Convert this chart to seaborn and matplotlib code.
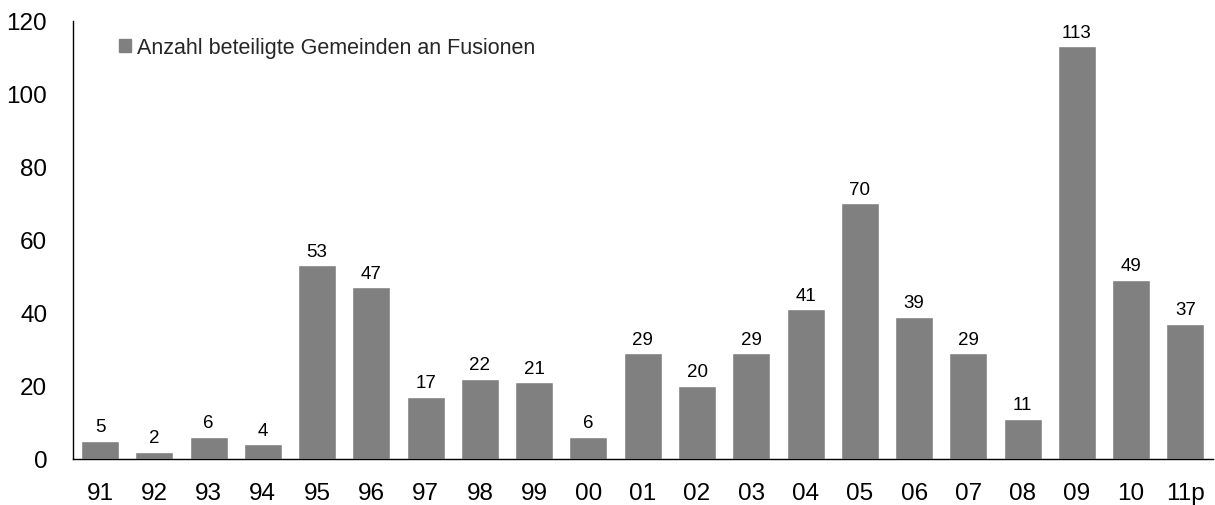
import matplotlib
matplotlib.use("Agg")
import matplotlib.pyplot as plt
import seaborn as sns
import pandas as pd
from matplotlib.patches import Patch

years = ["91", "92", "93", "94", "95", "96", "97", "98", "99", "00", "01", "02",
         "03", "04", "05", "06", "07", "08", "09", "10", "11p"]
values = [5, 2, 6, 4, 53, 47, 17, 22, 21, 6, 29, 20, 29, 41, 70, 39, 29, 11, 113, 49, 37]
series_name = "Anzahl beteiligte Gemeinden an Fusionen"

df = pd.DataFrame({"Jahr": years, "Anzahl": values})

sns.set_theme(style="white")
plt.rcParams["font.family"] = ["Liberation Sans", "DejaVu Sans"]

fig = plt.figure(figsize=(12.15, 5.06), dpi=100)
ax = fig.add_axes([0.060, 0.091, 0.938, 0.866])

sns.barplot(data=df, x="Jahr", y="Anzahl", color="#808080", saturation=1,
            width=0.7, ax=ax)

for c in ax.containers:
    ax.bar_label(c, labels=[str(v) for v in values], padding=4, fontsize=13.5, color="#000000")

ax.set_ylim(0, 120)
ax.set_yticks(range(0, 121, 20))
ax.set_xlim(-0.5, len(years) - 0.5)
ax.set_xlabel("")
ax.set_ylabel("")
ax.tick_params(axis="both", length=0, labelsize=17.5, colors="#000000")
ax.tick_params(axis="x", pad=16.5)
ax.tick_params(axis="y", pad=18.5)
for s in ["top", "right"]:
    ax.spines[s].set_visible(False)
for s in ["left", "bottom"]:
    ax.spines[s].set_color("#000000")
    ax.spines[s].set_linewidth(1.0)

ax.legend(handles=[Patch(color="#808080", label=series_name)], loc="upper left",
          bbox_to_anchor=(0.033, 0.982), frameon=False, fontsize=15.5,
          handlelength=0.55, handleheight=0.55, handletextpad=0.3, borderaxespad=0)

fig.savefig("out.png", dpi=100)
